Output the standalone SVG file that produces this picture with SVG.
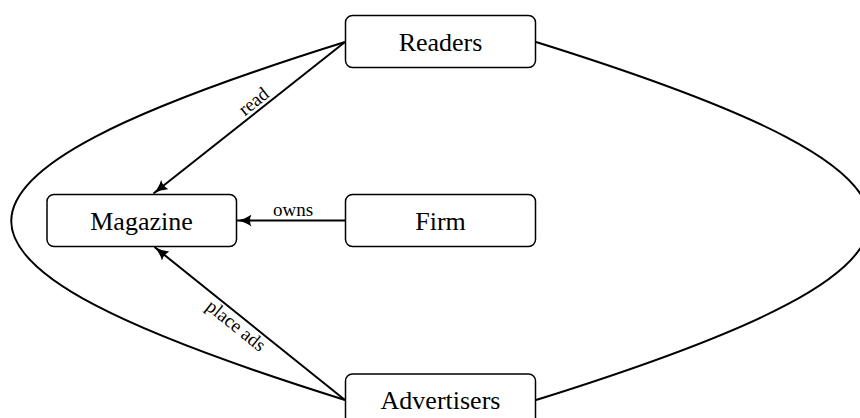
<svg xmlns="http://www.w3.org/2000/svg" width="860" height="418" viewBox="0 0 860 418">
<style>
.box{fill:#fff;stroke:#000;stroke-width:1.5}
.lbl{font-family:"Liberation Serif","Times New Roman",serif;font-size:26px;fill:#000;text-anchor:middle}
.sm{font-family:"Liberation Serif","Times New Roman",serif;font-size:19px;fill:#000;text-anchor:middle}
.edge{fill:none;stroke:#000;stroke-width:2}
</style>
<defs>
<marker id="arr" markerUnits="userSpaceOnUse" viewBox="0 0 15 12" refX="14.5" refY="6" markerWidth="15" markerHeight="12" orient="auto">
<path d="M0,0 Q6,4.5 14.5,6 Q6,7.5 0,12 Q3,6 0,0 Z" fill="#000"/>
</marker>
</defs>
<g id="connectors">
<path class="edge" d="M345,42 C-100,181 -100,261 345,400"/>
<path class="edge" d="M536,42 C981,181 981,261 536,400"/>
<line class="edge" x1="345" y1="42" x2="153.5" y2="193.5" marker-end="url(#arr)"/>
<line class="edge" x1="345" y1="220.5" x2="237" y2="220.5" marker-end="url(#arr)"/>
<line class="edge" x1="345" y1="400" x2="154.5" y2="247" marker-end="url(#arr)"/>
<text class="sm" transform="translate(260,109.5) rotate(-38.5)" x="0" y="-4">read</text>
<text class="sm" x="293" y="216">owns</text>
<text class="sm" transform="translate(242.5,317.5) rotate(38.8)" x="0" y="16.5">place ads</text>
</g>
<g id="readers">
<rect class="box" x="345.5" y="15.5" width="190" height="52" rx="7"/>
<text class="lbl" x="440.5" y="50.5">Readers</text>
</g>
<g id="magazine">
<rect class="box" x="47" y="194.5" width="189.5" height="52" rx="7"/>
<text class="lbl" x="141.5" y="230">Magazine</text>
</g>
<g id="firm">
<rect class="box" x="345.5" y="194.5" width="190" height="52" rx="7"/>
<text class="lbl" x="440.5" y="230">Firm</text>
</g>
<g id="advertisers">
<rect class="box" x="345.5" y="374" width="190" height="52" rx="7"/>
<text class="lbl" x="440.5" y="408.5">Advertisers</text>
</g>
</svg>
